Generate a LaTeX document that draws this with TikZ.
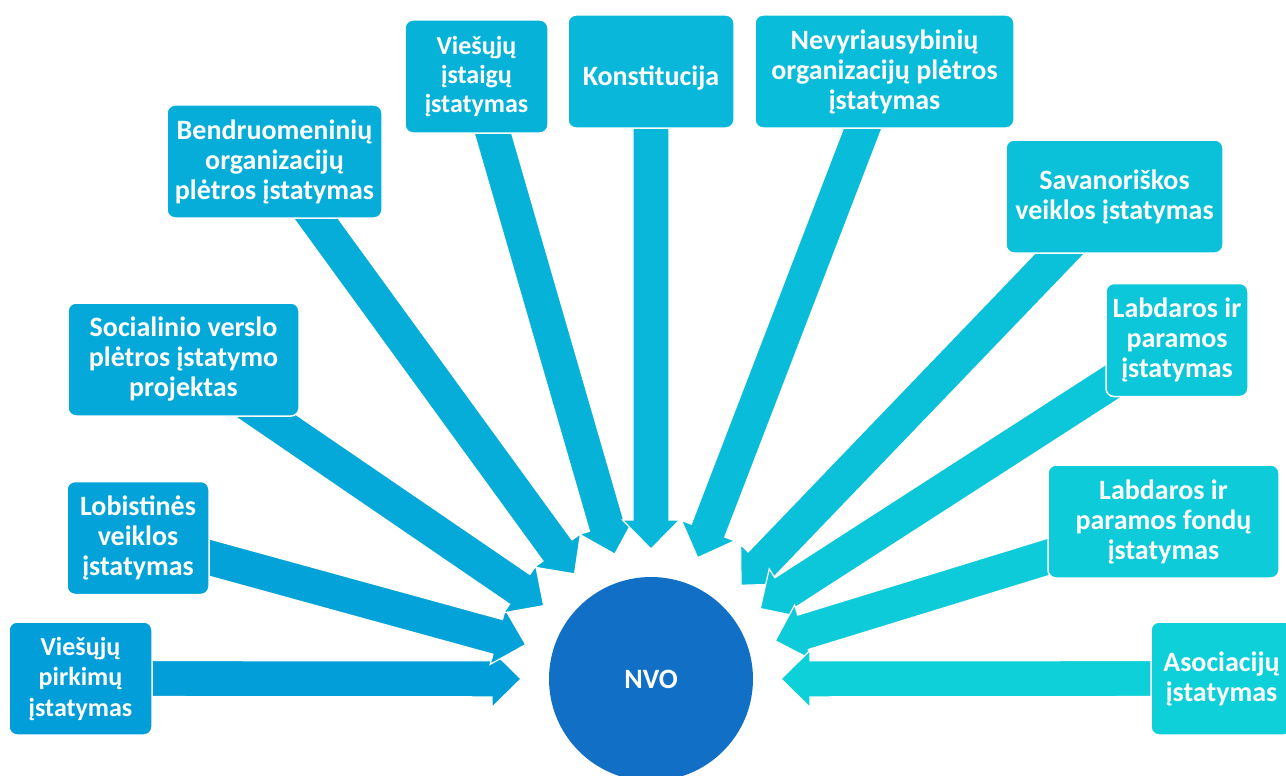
\documentclass[tikz,border=0pt]{standalone}
\usepackage{fontspec}
\setmainfont{Carlito}
\usetikzlibrary{calc}
\pgfdeclarelayer{bg}
\pgfsetlayers{bg,main}
\definecolor{c1}{RGB}{2,158,217}
\definecolor{c2}{RGB}{3,163,217}
\definecolor{c3}{RGB}{4,168,217}
\definecolor{c4}{RGB}{6,173,217}
\definecolor{c5}{RGB}{7,178,217}
\definecolor{c6}{RGB}{8,183,217}
\definecolor{c7}{RGB}{9,188,217}
\definecolor{c8}{RGB}{10,193,217}
\definecolor{c9}{RGB}{12,198,217}
\definecolor{c10}{RGB}{13,203,217}
\definecolor{c11}{RGB}{14,208,217}
\definecolor{nvoblue}{RGB}{17,112,198}
\tikzset{
  lawbox/.style={rounded corners=8pt, draw=white, line width=1.5pt, text=white,
    align=center, inner sep=2pt, font=\bfseries\fontsize{28}{30}\selectfont,
    minimum height=113pt},
  smallfont/.style={font=\bfseries\fontsize{26}{30.5}\selectfont},
  radarrowstyle/.style={draw=white, line width=1.2pt, line join=miter},
}
\newcommand\radarrow[2]{%
  \path[radarrowstyle, fill=#2]
    let \p1=($(#1.center)-(nvo.center)$), \n1={atan2(\y1,\x1)}, \n2={veclen(\x1,\y1)} in
    ($(nvo.center)+(\n1:130pt)$) --
    ($(nvo.center)+(\n1:159pt)+(\n1+90:28.5pt)$) --
    ($(nvo.center)+(\n1:159pt)+(\n1+90:18pt)$) --
    ($(nvo.center)+(\n1:\n2)+(\n1+90:18pt)$) --
    ($(nvo.center)+(\n1:\n2)+(\n1-90:18pt)$) --
    ($(nvo.center)+(\n1:159pt)+(\n1-90:18pt)$) --
    ($(nvo.center)+(\n1:159pt)+(\n1-90:28.5pt)$) -- cycle;
}
\begin{document}
\begin{tikzpicture}[x=1pt,y=-1pt]
\useasboundingbox (0,0) rectangle (1286,776);

\node[circle, fill=nvoblue, minimum size=204pt, inner sep=0pt, text=white,
  font=\bfseries\fontsize{28}{30}\selectfont] (nvo) at (651,679) {NVO};

\node[lawbox, smallfont, fill=c1, minimum width=143pt] (b1) at (80.5,678.5) {Viešųjų\\pirkimų\\įstatymas};
\node[lawbox, fill=c2, minimum width=142pt] (b2) at (138,538) {Lobistinės\\veiklos\\įstatymas};
\node[lawbox, fill=c3, minimum width=231pt] (b3) at (183.5,359.5) {Socialinio verslo\\plėtros įstatymo\\projektas};
\node[lawbox, fill=c4, minimum width=215pt] (b4) at (274.5,161.5) {Bendruomeninių\\organizacijų\\plėtros įstatymas};
\node[lawbox, font=\bfseries\fontsize{26}{29}\selectfont, fill=c5, minimum width=143pt] (b5) at (476.5,76.5) {Viešųjų\\įstaigų\\įstatymas};
\node[lawbox, fill=c6, minimum width=166pt] (b6) at (651,71.5) {\raisebox{-14.5pt}[0pt][0pt]{Konstitucija}};
\node[lawbox, fill=c7, minimum width=259pt] (b7) at (884.5,71.5) {Nevyriausybinių\\organizacijų plėtros\\įstatymas};
\node[lawbox, fill=c8, minimum width=217pt] (b8) at (1114.5,196.5) {Savanoriškos\\veiklos įstatymas};
\node[lawbox, fill=c9, minimum width=142pt] (b9) at (1177,340) {Labdaros ir\\paramos\\įstatymas};
\node[lawbox, fill=c10, minimum width=231pt] (b10) at (1163.5,521.5) {Labdaros ir\\paramos fondų\\įstatymas};
\node[lawbox, fill=c11, minimum width=141pt] (b11) at (1221.5,678.5) {Asociacijų\\įstatymas};

\begin{pgfonlayer}{bg}
\fill[white] (0,0) rectangle (1286,776);
\radarrow{b1}{c1}
\radarrow{b2}{c2}
\radarrow{b3}{c3}
\radarrow{b4}{c4}
\radarrow{b5}{c5}
\radarrow{b6}{c6}
\radarrow{b7}{c7}
\radarrow{b8}{c8}
\radarrow{b9}{c9}
\radarrow{b10}{c10}
\radarrow{b11}{c11}
\end{pgfonlayer}
\end{tikzpicture}
\end{document}
